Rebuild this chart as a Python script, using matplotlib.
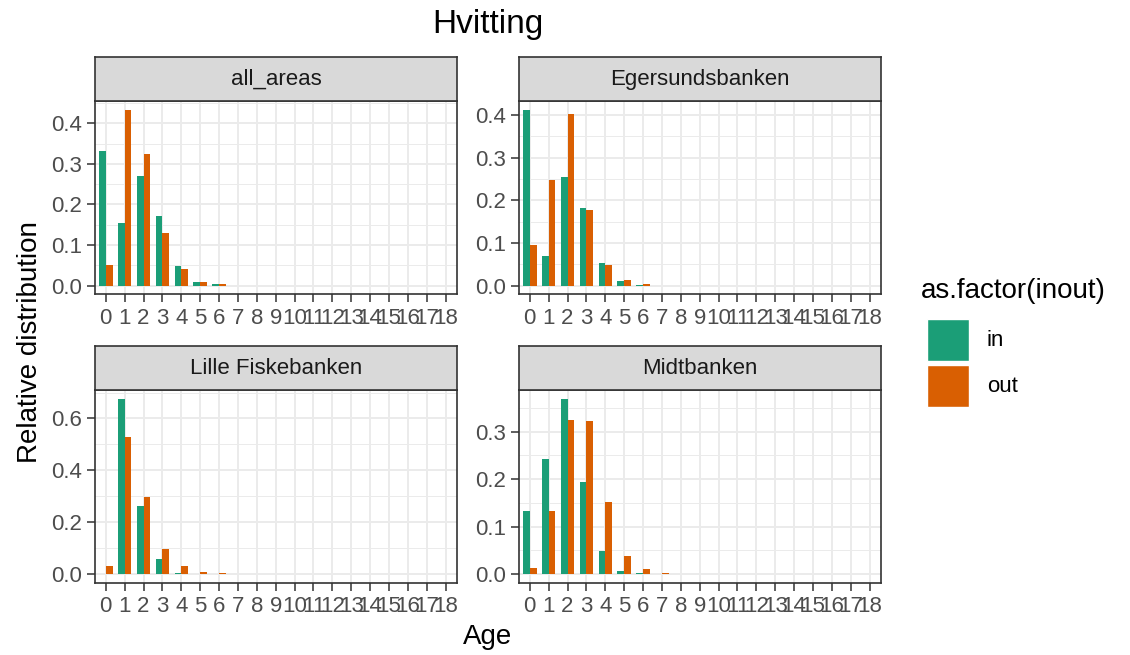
import matplotlib
matplotlib.use("Agg")
import matplotlib.pyplot as plt
from matplotlib.patches import Rectangle
from matplotlib.ticker import MultipleLocator, FormatStrFormatter
import numpy as np

plt.rcParams['font.family'] = ['Liberation Sans', 'DejaVu Sans']

ages = list(range(19))
panels = ["all_areas", "Egersundsbanken", "Lille Fiskebanken", "Midtbanken"]

all_areas_in = [0.332, 0.155, 0.270, 0.172, 0.049, 0.010, 0.003, 0, 0, 0, 0, 0, 0, 0, 0, 0, 0, 0, 0]
all_areas_out = [0.050, 0.433, 0.324, 0.129, 0.040, 0.009, 0.003, 0, 0, 0, 0, 0, 0, 0, 0, 0, 0, 0, 0]
egersund_in = [0.412, 0.070, 0.254, 0.183, 0.054, 0.011, 0.002, 0, 0, 0, 0, 0, 0, 0, 0, 0, 0, 0, 0]
egersund_out = [0.096, 0.248, 0.402, 0.178, 0.049, 0.013, 0.004, 0, 0, 0, 0, 0, 0, 0, 0, 0, 0, 0, 0]
lille_in = [0.0, 0.676, 0.261, 0.058, 0.006, 0.0, 0.0, 0, 0, 0, 0, 0, 0, 0, 0, 0, 0, 0, 0]
lille_out = [0.030, 0.529, 0.296, 0.099, 0.032, 0.008, 0.003, 0, 0, 0, 0, 0, 0, 0, 0, 0, 0, 0, 0]
midt_in = [0.132, 0.243, 0.369, 0.194, 0.049, 0.007, 0.003, 0, 0, 0, 0, 0, 0, 0, 0, 0, 0, 0, 0]
midt_out = [0.013, 0.134, 0.325, 0.323, 0.151, 0.039, 0.011, 0.002, 0, 0, 0, 0, 0, 0, 0, 0, 0, 0, 0]

series_in = [all_areas_in, egersund_in, lille_in, midt_in]
series_out = [all_areas_out, egersund_out, lille_out, midt_out]
ystep = [0.1, 0.1, 0.2, 0.1]

col_in = "#1B9E77"
col_out = "#D95F02"
grid_col = "#EBEBEB"
dark = "#333333"

W, H = 1130, 655
fig = plt.figure(figsize=(W / 100, H / 100), dpi=100)

def rect(l, t, r, b):
    return [l / W, 1 - b / H, (r - l) / W, (b - t) / H]

boxes = [(95, 101, 457, 294.5), (519, 101, 881, 294.5),
         (95, 390, 457, 583), (519, 390, 881, 583)]
strip_h = 44

bw = 0.36
for i, (name, (l, t, r, b)) in enumerate(zip(panels, boxes)):
    ax = fig.add_axes(rect(l, t, r, b))
    vin = np.array(series_in[i])
    vout = np.array(series_out[i])
    x = np.array(ages)
    mask_in = vin > 0
    mask_out = vout > 0
    ax.bar(x[mask_in] - bw / 2, vin[mask_in], width=bw, color=col_in, linewidth=0, zorder=3)
    ax.bar(x[mask_out] + bw / 2, vout[mask_out], width=bw, color=col_out, linewidth=0, zorder=3)
    ymax = max(vin.max(), vout.max())
    ax.set_ylim(-0.05 * ymax, 1.05 * ymax)
    ax.set_xlim(-0.57, 18.6)
    ax.set_xticks(ages)
    ax.set_xticklabels([str(a) for a in ages])
    ax.yaxis.set_major_locator(MultipleLocator(ystep[i]))
    ax.yaxis.set_minor_locator(MultipleLocator(ystep[i] / 2))
    ax.yaxis.set_major_formatter(FormatStrFormatter('%.1f'))
    ax.grid(True, which='major', axis='both', color=grid_col, linewidth=1.4, zorder=0)
    ax.grid(True, which='minor', axis='y', color=grid_col, linewidth=0.7, zorder=0)
    ax.set_axisbelow(True)
    ax.tick_params(axis='both', which='major', length=5.5, width=1.1, color=dark,
                   labelsize=16, labelcolor="#4D4D4D", pad=4)
    ax.tick_params(axis='both', which='minor', length=0)
    for s in ax.spines.values():
        s.set_color(dark)
        s.set_linewidth(1.2)
        s.set_zorder(5)
    # strip
    sax = fig.add_axes(rect(l, t - strip_h, r, t))
    sax.set_xlim(0, 1)
    sax.set_ylim(0, 1)
    sax.set_facecolor("#D9D9D9")
    sax.set_xticks([])
    sax.set_yticks([])
    for s in sax.spines.values():
        s.set_color(dark)
        s.set_linewidth(1.2)
    sax.text(0.5, 0.5, name, ha='center', va='center', fontsize=16, color="#1A1A1A")

fig.text(488 / W, 1 - 25 / H, "Hvitting", ha='center', va='center', fontsize=24, color='black')
fig.text(488 / W, 1 - 637 / H, "Age", ha='center', va='center', fontsize=20, color='black')
fig.text(30 / W, 1 - 342 / H, "Relative distribution", ha='center', va='center',
         rotation=90, fontsize=20, color='black')

# legend
fig.text(921 / W, 1 - 291 / H, "as.factor(inout)", ha='left', va='center', fontsize=20, color='black')
lax = fig.add_axes([0, 0, 1, 1], facecolor='none')
lax.set_xlim(0, W)
lax.set_ylim(H, 0)
lax.axis('off')
lax.add_patch(Rectangle((927, 319), 42, 42, facecolor=col_in, edgecolor='white', linewidth=1))
lax.add_patch(Rectangle((927, 365), 42, 42, facecolor=col_out, edgecolor='white', linewidth=1))
lax.text(987, 341, "in", ha='left', va='center', fontsize=16, color='black')
lax.text(987, 387, "out", ha='left', va='center', fontsize=16, color='black')

fig.savefig("out.png", dpi=100)
